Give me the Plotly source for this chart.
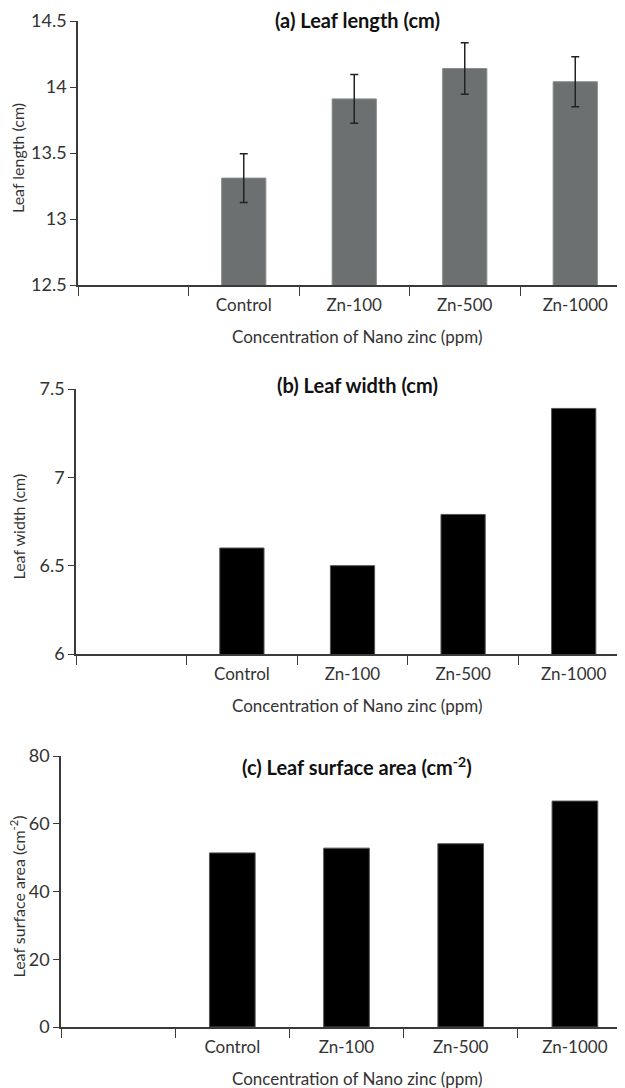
import plotly.graph_objects as go

# The page body adds an 8px margin, so the figure is sized to fit the window
OFF = 8
W, H = 625 - OFF, 1088 - OFF

categories = [" ", "Control", "Zn-100", "Zn-500", "Zn-1000"]
leaf_length = [None, 13.31, 13.91, 14.14, 14.04]
leaf_length_err = [None, 0.185, 0.185, 0.195, 0.19]
leaf_width = [None, 6.60, 6.50, 6.79, 7.39]
leaf_area = [None, 51.4, 52.8, 54.1, 66.7]

titles = ["<b>(a) Leaf length (cm)</b>", "<b>(b) Leaf width (cm)</b>",
          "<b>(c) Leaf surface area (cm<sup>-2</sup>)</b>"]
ytitles = ["Leaf length (cm)", "Leaf width (cm)", "Leaf surface area (cm<sup>-2</sup>)"]
xtitle = "Concentration of Nano zinc (ppm)"

FONT = "Lato"
TXT = "#333333"
AX = "#3a3a3a"


def px(sx):
    return (sx - OFF) / W


def py(sy):
    return 1 - (sy - OFF) / H


panels = [
    dict(left=78, right=630.5, top=21, bottom=285, title_y=20, yrange=[12.5, 14.5],
         tickvals=[12.5, 13, 13.5, 14, 14.5], ticktext=["12.5", "13", "13.5", "14", "14.5"]),
    dict(left=76, right=629, top=389, bottom=654, title_y=385, yrange=[6, 7.5],
         tickvals=[6, 6.5, 7, 7.5], ticktext=["6", "6.5", "7", "7.5"]),
    dict(left=61, right=632, top=756, bottom=1027, title_y=766, yrange=[0, 80],
         tickvals=[0, 20, 40, 60, 80], ticktext=["0", "20", "40", "60", "80"]),
]

fig = go.Figure()

fig.add_trace(go.Bar(
    x=categories, y=leaf_length, xaxis="x", yaxis="y", width=0.4,
    marker=dict(color="#6d7070", line=dict(color="#8a8c8c", width=1)),
    error_y=dict(type="data", array=leaf_length_err, visible=True,
                 color="#222222", thickness=1.5, width=4),
    showlegend=False,
))
fig.add_trace(go.Bar(
    x=categories, y=leaf_width, xaxis="x2", yaxis="y2", width=0.4,
    marker=dict(color="#000000", line=dict(color="#555555", width=1)),
    showlegend=False,
))
fig.add_trace(go.Bar(
    x=categories, y=leaf_area, xaxis="x3", yaxis="y3", width=0.4,
    marker=dict(color="#000000", line=dict(color="#555555", width=1)),
    showlegend=False,
))

layout = dict(
    template="none",
    width=W, height=H,
    margin=dict(l=0, r=0, t=0, b=0, pad=0),
    paper_bgcolor="white", plot_bgcolor="white",
    font=dict(family=FONT, color=TXT, size=16),
    annotations=[],
)

for i, p in enumerate(panels):
    sfx = "" if i == 0 else str(i + 1)
    span = (p["right"] - p["left"]) / 5.0
    xmax = -0.5 + (625 - p["left"]) / span
    xd = [px(p["left"]), 1.0]
    yd = [py(p["bottom"]), py(p["top"])]
    layout["xaxis" + sfx] = dict(
        domain=xd, anchor="y" + sfx, type="category", automargin=False,
        categoryorder="array", categoryarray=categories,
        range=[-0.5, xmax], tickson="boundaries",
        ticks="outside", ticklen=9, tickwidth=1.2, tickcolor=AX,
        ticklabelstandoff=4,
        showline=True, linecolor=AX, linewidth=1.5,
        showgrid=False, zeroline=False,
        tickfont=dict(family=FONT, size=17, color=TXT),
    )
    layout["yaxis" + sfx] = dict(
        domain=yd, anchor="x" + sfx, range=p["yrange"], automargin=False,
        tickvals=p["tickvals"], ticktext=p["ticktext"],
        ticks="outside", ticklen=6, tickwidth=1.2, tickcolor=AX,
        showline=True, linecolor=AX, linewidth=1.5,
        showgrid=False, zeroline=False,
        tickfont=dict(family=FONT, size=18, color=TXT),
    )
    layout["annotations"].append(dict(
        text=titles[i], x=px(357), y=py(p["title_y"]),
        xref="paper", yref="paper", xanchor="center", yanchor="middle",
        showarrow=False, font=dict(family=FONT, size=20, color="#111111"),
    ))
    layout["annotations"].append(dict(
        text=xtitle, x=px(357), y=py(p["bottom"] + 51),
        xref="paper", yref="paper", xanchor="center", yanchor="middle",
        showarrow=False, font=dict(family=FONT, size=17, color=TXT),
    ))
    layout["annotations"].append(dict(
        text=ytitles[i], x=px(18), y=py((p["top"] + p["bottom"]) / 2 + 5),
        xref="paper", yref="paper", xanchor="center", yanchor="middle",
        textangle=-90, showarrow=False, font=dict(family=FONT, size=16, color=TXT),
    ))

fig.update_layout(**layout)
fig.write_html("out.html")
